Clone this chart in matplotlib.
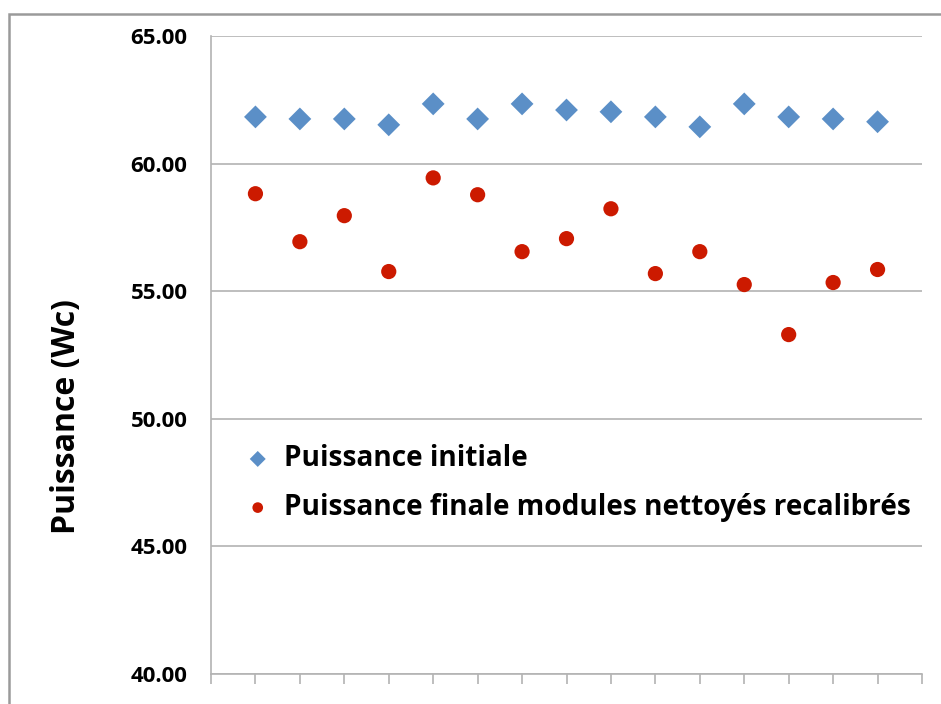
import matplotlib.pyplot as plt
from matplotlib.patches import Rectangle

# modules 1..15
modules = list(range(1, 16))
puissance_initiale = [61.83, 61.75, 61.75, 61.52, 62.34, 61.75, 62.34, 62.10,
                      62.03, 61.83, 61.44, 62.34, 61.83, 61.75, 61.64]
puissance_finale = [58.82, 56.94, 57.96, 55.77, 59.44, 58.78, 56.55, 57.06,
                    58.23, 55.69, 56.55, 55.26, 53.30, 55.34, 55.85]
yticks = [40, 45, 50, 55, 60, 65]

plt.rcParams['font.family'] = ['Open Sans', 'DejaVu Sans']
grey = '#B3B3B3'

fig = plt.figure(figsize=(9.41, 7.04), dpi=100)
fig.patches.append(Rectangle((9 / 941, -0.1), 1.1, (704 - 14) / 704 + 0.1,
                             transform=fig.transFigure, fill=False,
                             edgecolor='#9A9A9A', lw=1.8))
ax = fig.add_axes([211 / 941, 30 / 704, (922 - 211) / 941, (674 - 36) / 704])

ax.scatter(modules, puissance_initiale, marker='D', s=135, color='#5B8FC7',
           edgecolors='none', label='Puissance initiale', zorder=3)
ax.scatter(modules, puissance_finale, marker='o', s=120, color='#CC1A00',
           edgecolors='none', label='Puissance finale modules nettoyés recalibrés',
           zorder=3)

ax.set_xlim(0, 16)
ax.set_ylim(40, 65)
ax.set_xticks(range(0, 17))
ax.set_xticklabels([])
ax.set_yticks(yticks)
ax.set_yticklabels([f'{v:.2f}' for v in yticks], fontsize=16, fontweight='bold')
ax.tick_params(axis='y', length=0, pad=17)
ax.tick_params(axis='x', length=7, color=grey, width=1.2, direction='out')
ax.yaxis.grid(True, color=grey, lw=1.2)
ax.set_axisbelow(True)
for s in ['top', 'right']:
    ax.spines[s].set_visible(False)
for s in ['left', 'bottom']:
    ax.spines[s].set_color(grey)
    ax.spines[s].set_linewidth(1.2)

fig.text(67 / 941, 1 - 417 / 704, 'Puissance (Wc)', rotation=90,
         fontsize=23, fontweight='bold', ha='center', va='center')

ax.legend(loc='upper left', bbox_to_anchor=(0.046, 0.36), frameon=False,
          prop={'size': 20.2, 'weight': 'bold'}, handletextpad=0.45,
          handlelength=1.0, labelspacing=0.7, borderaxespad=0,
          borderpad=0, markerscale=0.7)

fig.savefig('out.png', dpi=100)
